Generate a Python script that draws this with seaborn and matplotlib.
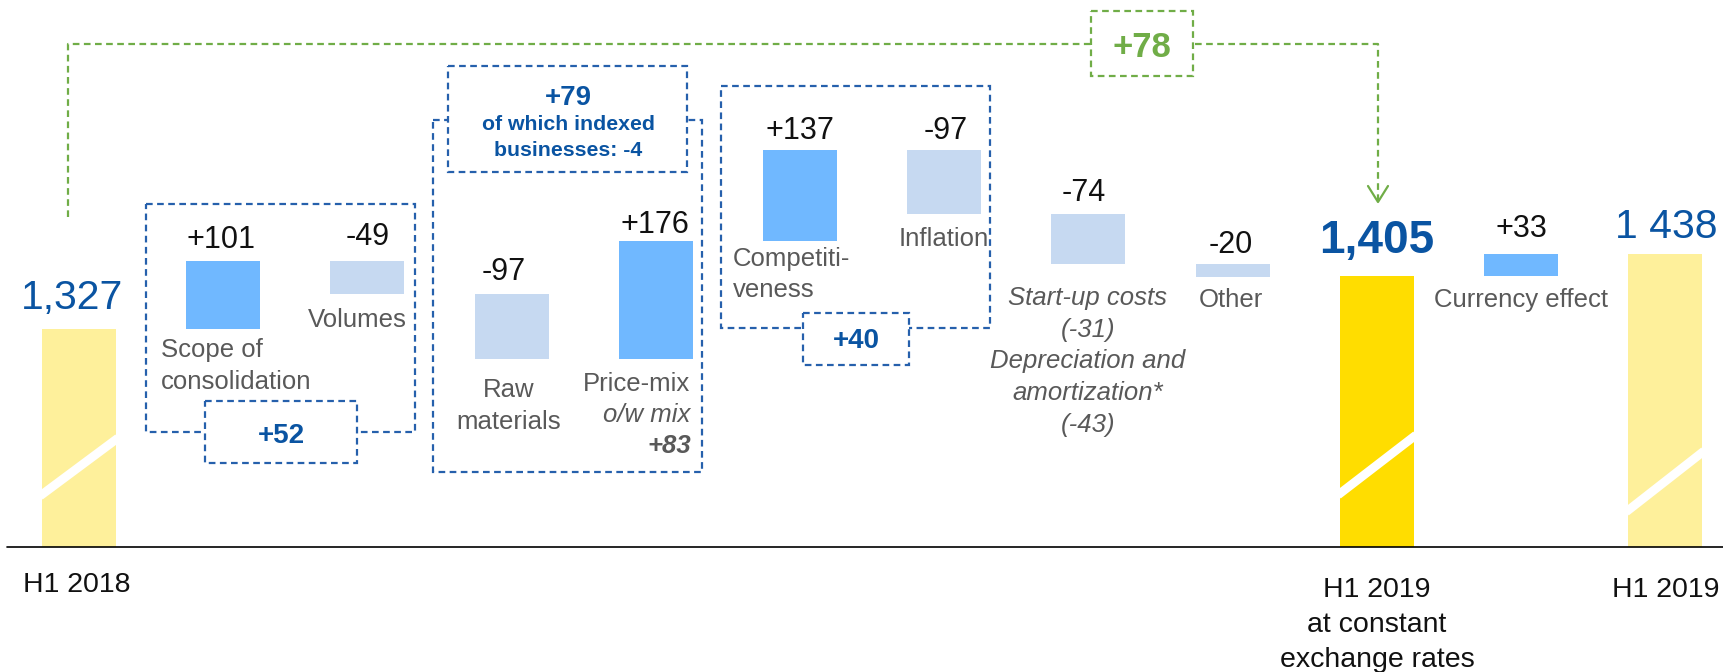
import numpy as np
import pandas as pd
import seaborn as sns
import matplotlib.pyplot as plt
from matplotlib.patches import Rectangle

# EBITDA bridge H1 2018 -> H1 2019
steps = ["H1 2018", "Scope", "Volumes", "Raw materials", "Price-mix", "Competitiveness",
         "Inflation", "Start-up", "Other", "H1 2019 cst", "Currency", "H1 2019"]
kind = ["total", "up", "down", "down", "up", "up", "down", "down", "down", "key", "up", "total"]
amount = [1327, 101, -49, -97, 176, 137, -97, -74, -20, 1405, 33, 1438]
value_txt = ["1,327", "+101", "-49", "-97", "+176", "+137", "-97", "-74", "-20", "1,405", "+33", "1 438"]
axis_floor = 1000  # the axis is broken, bars start at 1000

group_txt = ["+52", "+79", "of which indexed", "businesses: -4", "+40"]
bridge_txt = "+78"

sns.set_theme(style="white")
plt.rcParams['font.family'] = ['Liberation Sans', 'DejaVu Sans']

BLUE_TXT = "#0A54A2"
BLUE_BOX = "#2660AC"
GREEN = "#70AD47"
GREY = "#595959"
colors = {"total": "#FEF09B", "key": "#FFDD00", "up": "#70B8FF", "down": "#C6D9F1"}

# waterfall geometry
run = 0
low, high = [], []
for k, a in zip(kind, amount):
    if k in ("total", "key"):
        low.append(axis_floor)
        high.append(a)
        run = a
    else:
        low.append(min(run, run + a))
        high.append(max(run, run + a))
        run += a
df = pd.DataFrame({"step": steps, "low": low, "height": np.subtract(high, low)})

fig = plt.figure(figsize=(17.23, 6.72), dpi=100)
ax = fig.add_axes([0, 0, 1, 1])
sns.barplot(data=df, x="step", y="height", order=steps, bottom=df["low"].values,
            color="C0", width=0.513, errorbar=None, ax=ax, linewidth=0)
for p, k in zip(ax.patches, kind):
    p.set_facecolor(colors[k])
    p.set_edgecolor("none")

ax.set_xlim(-0.548, 11.40)
ax.set_ylim(812.9, 1818.9)
ax.axis("off")
ax.axhline(axis_floor, xmin=7 / 1723, xmax=1, color="black", lw=1.2)

# value labels above each bar
dy = [20, 13, 16, 14, 8, 11, 11, 13, 11, 23, 17, 16]
dx = [-7, -2, 0, -8, -1, 0, 1, -5, -2, 0, 0, 1]
for i, (t, k) in enumerate(zip(value_txt, kind)):
    if k == "total":
        st = dict(color=BLUE_TXT, fontsize=29.5)
    elif k == "key":
        st = dict(color=BLUE_TXT, fontsize=33, fontweight="bold")
    else:
        st = dict(color="#111111", fontsize=22)
    ax.annotate(t, xy=(i, high[i]), xytext=(dx[i], dy[i]), textcoords="offset pixels",
                ha="center", va="baseline", **st)

# overlay in pixel coordinates for the slide decorations
ov = fig.add_axes([0, 0, 1, 1])
ov.set_xlim(0, 1723)
ov.set_ylim(672, 0)
ov.axis("off")
ov.patch.set_alpha(0)

# axis break marks on the totals
for (x0, y0, x1, y1) in [(40, 496, 118, 438), (1338, 495, 1416, 435), (1626, 512, 1704, 451)]:
    ov.plot([x0, x1], [y0, y1], color="white", lw=6.3, solid_capstyle="butt")


def dash_box(x0, y0, x1, y1, color=BLUE_BOX, fill=False):
    ov.add_patch(Rectangle((x0, y0), x1 - x0, y1 - y0, fill=fill, facecolor="white",
                           edgecolor=color, lw=1.6, linestyle=(0, (3, 2)), zorder=3 if fill else 2))


def lines(x, y, text, step=32, **kw):
    # one text per line, y is the baseline of the first line
    for j, s in enumerate(text.split("\n")):
        ov.text(x, y + j * step, s, va="baseline", **kw)


dash_box(146, 204, 415, 432)
dash_box(205, 401, 357, 463, fill=True)
dash_box(433, 120, 702, 472)
dash_box(448, 66, 687, 172, fill=True)
dash_box(721, 86, 990, 328)
dash_box(803, 313, 909, 365, fill=True)

# green bridge arrow
ov.plot([68, 68, 1378, 1378], [217, 44, 44, 201], color=GREEN, lw=1.6, linestyle=(0, (3, 2)), zorder=2)
ov.plot([1368, 1378, 1388], [186, 202, 186], color=GREEN, lw=1.6, zorder=2)
dash_box(1091, 11, 1193, 76, color=GREEN, fill=True)
ov.text(1142, 57, bridge_txt, color=GREEN, fontsize=25, fontweight="bold", ha="center", va="baseline", zorder=4)

bold_blue = dict(color=BLUE_TXT, fontweight="bold", ha="center", zorder=4)
lines(281, 443, group_txt[0], fontsize=20, **bold_blue)
lines(568, 105, group_txt[1], fontsize=20, **bold_blue)
lines(568, 130, group_txt[2] + "\n" + group_txt[3], step=26, fontsize=15.3, **bold_blue)
lines(856, 348, group_txt[4], fontsize=20, **bold_blue)

# category labels
lab = dict(color=GREY, fontsize=18.5)
lines(161, 357, "Scope of\nconsolidation", ha="left", **lab)
lines(357, 327, "Volumes", ha="center", **lab)
lines(509, 397, "Raw\nmaterials", ha="center", **lab)
lines(690, 391, "Price-mix", ha="right", **lab)
lines(690, 422, "o/w mix", ha="right", style="italic", **lab)
lines(691, 453, "+83", ha="right", style="italic", fontweight="bold", **lab)
lines(733, 266, "Competiti-\nveness", step=31, ha="left", **lab)
lines(944, 246, "Inflation", ha="center", **lab)
lines(1088, 305, "Start-up costs\n(-31)\nDepreciation and\namortization*\n(-43)",
      step=31.7, ha="center", style="italic", **lab)
lines(1231, 307, "Other", ha="center", **lab)
lines(1521, 307, "Currency effect", ha="center", **lab)

xl = dict(color="#111111", fontsize=20.5, ha="center")
lines(77, 592, "H1 2018", **xl)
lines(1377, 597, "H1 2019\nat constant\nexchange rates", step=35, **xl)
lines(1666, 597, "H1 2019", **xl)

fig.savefig("out.png", dpi=100)
